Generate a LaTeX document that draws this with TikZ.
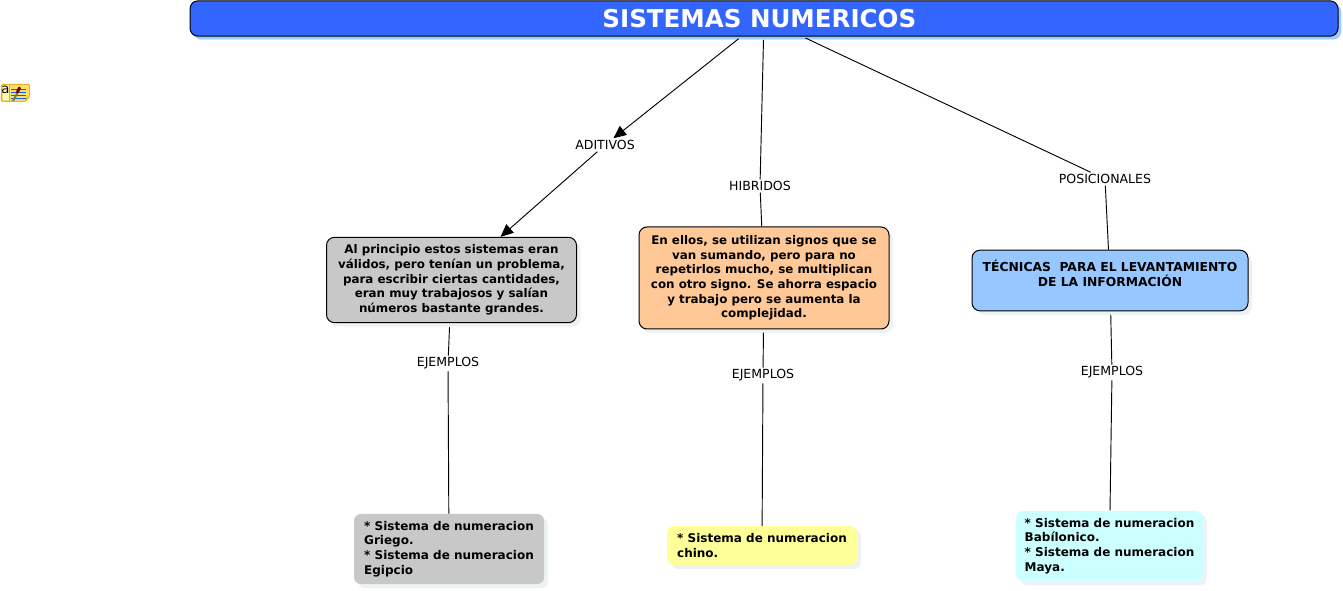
\documentclass[tikz,border=0pt]{standalone}
\usepackage{fontspec}
\setmainfont{DejaVu Sans}
\usetikzlibrary{arrows.meta,shadows}
\definecolor{titlefill}{HTML}{3366FF}
\definecolor{titleshadow}{HTML}{99CCFF}
\definecolor{softshadow}{HTML}{EDF3F5}
\definecolor{grayfill}{HTML}{C8C8C8}
\definecolor{orangefill}{HTML}{FFC896}
\definecolor{bluefill}{HTML}{96C8FF}
\definecolor{yellowfill}{HTML}{FFFF99}
\definecolor{cyanfill}{HTML}{CCFFFF}
\definecolor{iconfill}{HTML}{FFDD66}
\definecolor{iconedge}{HTML}{E0B030}
\tikzset{
    softbox/.style={rounded corners=6pt, inner sep=0pt, font=\fontsize{8.9}{11}\selectfont\bfseries,
        general shadow={fill=softshadow, shadow xshift=3pt, shadow yshift=-3pt}},
    conceptbox/.style={softbox, draw=black, line width=.75pt, align=center},
    examplebox/.style={softbox, font=\fontsize{9}{11}\selectfont\bfseries, align=left, rounded corners=5pt},
    linklabel/.style={font=\fontsize{9.4}{11}\selectfont, inner xsep=0pt, inner ysep=1.3pt},
    linkplain/.style={line width=.7pt},
    linkline/.style={linkplain, shorten <=2.4pt},
    linkarrow/.style={linkplain, -{Triangle[length=9.5pt,width=8.5pt]}},
}
\begin{document}
\begin{tikzpicture}[x=.75pt, y=-.75pt]
        \useasboundingbox (0,0) rectangle (1343,591);
        % title
        \node [softbox, draw=black, line width=.75pt, fill=titlefill, text=white,
            minimum width=861pt, minimum height=26.5pt, font=\fontsize{18.4}{20}\selectfont\bfseries,
            general shadow={fill=titleshadow, shadow xshift=2.4pt, shadow yshift=-2.4pt}]
            (title) at (764,18.5) {SISTEMAS NUMERICOS\hspace*{7pt}};
        % link labels
        \node [linklabel] (aditivos) at (605,145) {ADITIVOS};
        \node [linklabel] (hibridos) at (760,186) {HIBRIDOS};
        \node [linklabel] (posicionales) at (1105,179) {POSICIONALES};
        \node [linklabel] (ejemplosA) at (448,363.5) {EJEMPLOS};
        \node [linklabel] (ejemplosB) at (763,375.5) {EJEMPLOS};
        \node [linklabel] (ejemplosC) at (1112,372.5) {EJEMPLOS};
        % concept boxes
        \node [conceptbox, fill=grayfill, minimum width=187.5pt, minimum height=64pt] (aditivosbox) at (451.5,280) {%
            Al principio estos sistemas eran\\válidos, pero tenían un problema,\\para escribir ciertas cantidades,\\eran muy trabajosos y salían\\números bastante grandes.};
        \node [conceptbox, fill=orangefill, minimum width=187.5pt, minimum height=76.5pt] (hibridosbox) at (764,278) {%
            En ellos, se utilizan signos que se\\van sumando, pero para no\\repetirlos mucho, se multiplican\\con otro signo. Se ahorra espacio\\y trabajo pero se aumenta la\\complejidad.};
        \node [conceptbox, fill=bluefill, font=\fontsize{9.25}{11}\selectfont\bfseries, minimum width=207pt, minimum height=45.5pt] (posicionalesbox) at (1110,280.5) {%
            TÉCNICAS\ \ PARA EL LEVANTAMIENTO~\\DE LA INFORMACIÓN\\~};
        % example boxes
        \node [examplebox, fill=grayfill, minimum width=142.5pt, minimum height=52.5pt] (griego) at (449,549) {%
            * Sistema de numeracion\\Griego.\\{}* Sistema de numeracion\\Egipcio};
        \node [examplebox, fill=yellowfill, minimum width=142.5pt, minimum height=29pt] (chino) at (762,545.5) {%
            * Sistema de numeracion\\chino.};
        \node [examplebox, fill=cyanfill, minimum width=140pt, minimum height=52.5pt] (maya) at (1109.5,546) {%
            * Sistema de numeracion\\Babílonico.\\{}* Sistema de numeracion\\Maya.};
        % connectors
        \draw [linkarrow, shorten <=2.4pt] (title) -- (aditivos);
        \draw [linkarrow] (aditivos) -- (aditivosbox);
        \draw [linkline] (title) -- (hibridos);
        \draw [linkplain] (hibridos) -- (hibridosbox);
        \draw [linkline] (title) -- (posicionales);
        \draw [linkplain] (posicionales) -- (posicionalesbox);
        \draw [linkline, shorten <=3pt] (aditivosbox) -- (ejemplosA);
        \draw [linkplain] (ejemplosA) -- (griego);
        \draw [linkline] (hibridosbox) -- (ejemplosB);
        \draw [linkplain] (ejemplosB) -- (chino);
        \draw [linkline] (posicionalesbox) -- (ejemplosC);
        \draw [linkplain] (ejemplosC) -- (maya);
        % note icon
        \draw [iconedge, fill=iconfill, line width=.75pt, rounded corners=.8pt]
            (1.5,84.5) -- (29.5,84.5) -- (29.5,97) -- (25,101.5) -- (1.5,101.5) -- cycle;
        \fill [yellowfill!60!white] (2.5,85.5) rectangle (9,100.5);
        \draw [iconedge] (9.5,85) -- (9.5,101);
        \fill [iconedge] (29,97.5) -- (25.5,97.5) -- (25.5,101) -- cycle;
        \node [inner sep=0pt, font=\fontsize{10}{10}\selectfont] (iconletter) at (5.5,90) {a};
        \foreach \liney in {89,92,95,98} {
            \draw [blue!60!cyan, line width=.7pt] (11,\liney) -- (26,\liney);
        }
        \draw [black!60!yellow, line width=1.4pt] (17.5,93) -- (13,101);
        \draw [red!50!black, line width=2.2pt, line cap=round] (19.5,88) -- (17.5,92);
\end{tikzpicture}
\end{document}
